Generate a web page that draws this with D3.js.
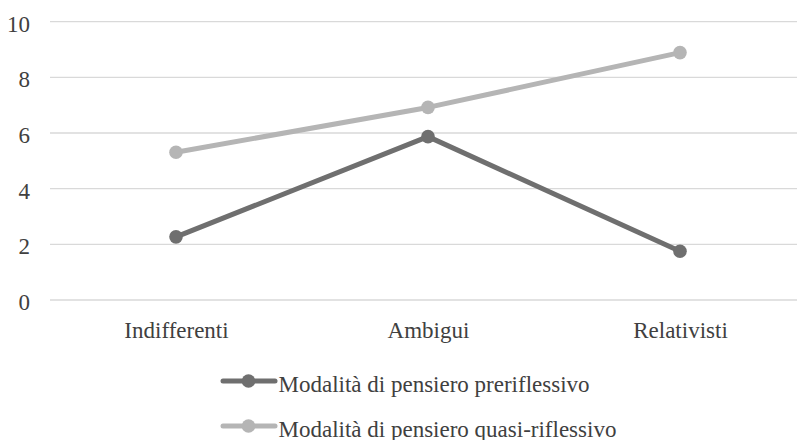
<!DOCTYPE html>
<html>
<head>
<meta charset="utf-8">
<script src="https://cdn.jsdelivr.net/npm/d3@7"></script>
<style>
  html, body { margin: 0; padding: 0; background: #ffffff; }
  svg { display: block; }
</style>
</head>
<body>
<svg id="chart" width="797" height="440"></svg>
<script>
// Categories along the x axis
const categories = ["Indifferenti", "Ambigui", "Relativisti"];

// Series values
const preriflessivo = [2.27, 5.87, 1.75];
const quasiRiflessivo = [5.31, 6.92, 8.89];

// Y axis ticks
const yTicks = [0, 2, 4, 6, 8, 10];

const seriesNames = ["Modalità di pensiero preriflessivo", "Modalità di pensiero quasi-riflessivo"];
const seriesColors = ["#6f6f6f", "#b5b5b5"];

const series = [
  { name: seriesNames[0], color: seriesColors[0], values: preriflessivo },
  { name: seriesNames[1], color: seriesColors[1], values: quasiRiflessivo }
];

const FONT = "'Liberation Serif', 'Times New Roman', serif";
const FONT_SIZE = "23px";

const svg = d3.select("#chart");

const plot = { left: 50, right: 806, top: 21.7, bottom: 300 };

const x = d3.scalePoint()
  .domain(categories)
  .range([plot.left, plot.right])
  .padding(0.5);

const y = d3.scaleLinear()
  .domain([0, 10])
  .range([plot.bottom, plot.top]);

// Horizontal gridlines
svg.append("g")
  .selectAll("line")
  .data(yTicks)
  .join("line")
  .attr("x1", plot.left)
  .attr("x2", plot.right)
  .attr("y1", d => y(d))
  .attr("y2", d => y(d))
  .attr("stroke", "#d9d9d9")
  .attr("stroke-width", 1.3);

function styleText(sel) {
  sel.style("font-family", FONT)
    .style("font-size", FONT_SIZE)
    .style("fill", "#404040");
}

// Y axis labels
const yAxis = svg.append("g")
  .attr("transform", `translate(${plot.left - 20},2)`)
  .call(d3.axisLeft(y).tickValues(yTicks).tickSize(0).tickPadding(0).tickFormat(d3.format("d")));
yAxis.select(".domain").remove();
yAxis.selectAll("text").call(styleText);

// X axis labels
const xAxis = svg.append("g")
  .attr("transform", `translate(0,${plot.bottom + 38})`)
  .call(d3.axisBottom(x).tickSize(0).tickPadding(0));
xAxis.select(".domain").remove();
xAxis.selectAll("text").attr("y", 0).attr("dy", 0).call(styleText);

// Lines and markers
const line = d3.line()
  .x((d, i) => x(categories[i]))
  .y(d => y(d));

const sg = svg.append("g")
  .selectAll("g")
  .data(series)
  .join("g");

sg.append("path")
  .attr("d", d => line(d.values))
  .attr("fill", "none")
  .attr("stroke", d => d.color)
  .attr("stroke-width", 5)
  .attr("stroke-linejoin", "round");

sg.selectAll("circle")
  .data(d => d.values.map((v, i) => ({ v, i, color: d.color })))
  .join("circle")
  .attr("cx", d => x(categories[d.i]))
  .attr("cy", d => y(d.v))
  .attr("r", 6.8)
  .attr("fill", d => d.color);

// Legend
const legend = svg.append("g")
  .selectAll("g")
  .data(series)
  .join("g")
  .attr("transform", (d, i) => `translate(222,${381 + i * 45})`);

legend.append("line")
  .attr("x1", 1).attr("x2", 53)
  .attr("y1", 0).attr("y2", 0)
  .attr("stroke", d => d.color)
  .attr("stroke-width", 5)
  .attr("stroke-linecap", "round");

legend.append("circle")
  .attr("cx", 26.5).attr("cy", 0).attr("r", 6.8)
  .attr("fill", d => d.color);

legend.append("text")
  .attr("x", 56.5)
  .attr("y", 11)
  .call(styleText)
  .text(d => d.name);
</script>
</body>
</html>
